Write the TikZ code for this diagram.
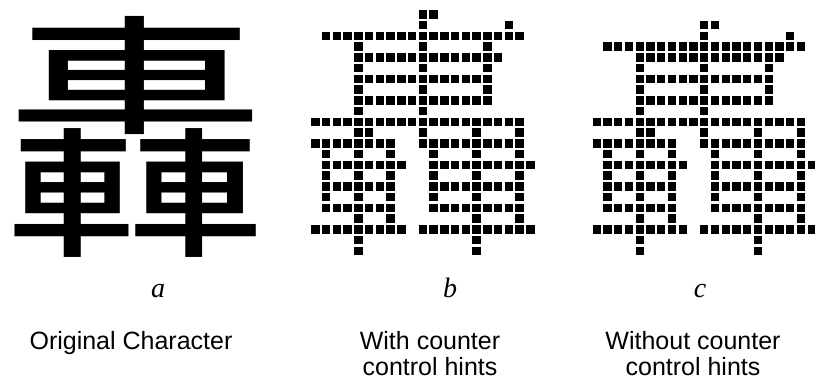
\documentclass[tikz,border=0pt]{standalone}
\usepackage{fontspec}
\setmainfont{Liberation Serif}
\setsansfont{Liberation Sans}
\newfontfamily\cjk{Noto Sans CJK SC}

% rows of the bitmap: row/{columns}
\def\hanzirows{0/{10,11}, 1/{10,18}, 2/{1,...,19}, 3/{4,10,16}, 4/{4,...,17},
  5/{4,10,16}, 6/{4,...,16}, 7/{4,10,16}, 8/{4,...,16}, 9/{4,10}, 10/{0,...,19},
  11/{4,5,10,15,19}, 12/{0,...,7,10,11,...,19}, 13/{1,4,7,11,15,19},
  14/{1,...,8,11,12,...,20}, 15/{1,4,7,11,15,19}, 16/{1,...,7,11,12,...,19},
  17/{1,4,7,11,15,19}, 18/{1,...,7,11,12,...,19}, 19/{4,7,15,19},
  20/{0,...,8,10,11,...,20}, 21/{4,15}, 22/{4,15}}

\begin{document}
\begin{tikzpicture}[x=1pt, y=-1pt]
    \tikzstyle{pixel} = [rectangle, fill=black, inner sep=0pt, minimum size=8.4pt, anchor=north west]
    \tikzstyle{letter} = [inner sep=0pt, anchor=base, font=\fontsize{28}{28}\selectfont\itshape]
    \tikzstyle{caption} = [inner sep=0pt, anchor=north, align=center, font=\sffamily\fontsize{25}{26}\selectfont]

    \useasboundingbox (0,0) rectangle (815,379);

    % Original character
    \node[inner sep=0pt, font=\cjk\fontsize{262}{262}\selectfont] (orig) at (136,137) {轟};

    % With counter control hints
    \foreach \r/\cs in \hanzirows \foreach \c in \cs {
        \node[pixel] (b-\r-\c) at (311+10.75*\c, 10+10.75*\r) {};
    }
    % Without counter control hints
    \foreach \r/\cs in \hanzirows \foreach \c in \cs {
        \ifnum\r<3 \node[pixel] (c-\r-\c) at (592.3+10.75*\c, 20.75+10.75*\r) {}; \fi
        \ifnum\r>3 \node[pixel] (c-\r-\c) at (592.3+10.75*\c, 10+10.75*\r) {}; \fi
    }

    % Labels
    \node[letter] (laba) at (158,298) {a};
    \node[letter] (labb) at (450,298) {b};
    \node[letter] (labc) at (700,298) {c};
    \node[caption] (capa) at (131,331) {Original Character};
    \node[caption] (capb) at (430,331) {With counter\\control hints};
    \node[caption] (capc) at (693,331) {Without counter\\control hints};

\end{tikzpicture}
\end{document}
